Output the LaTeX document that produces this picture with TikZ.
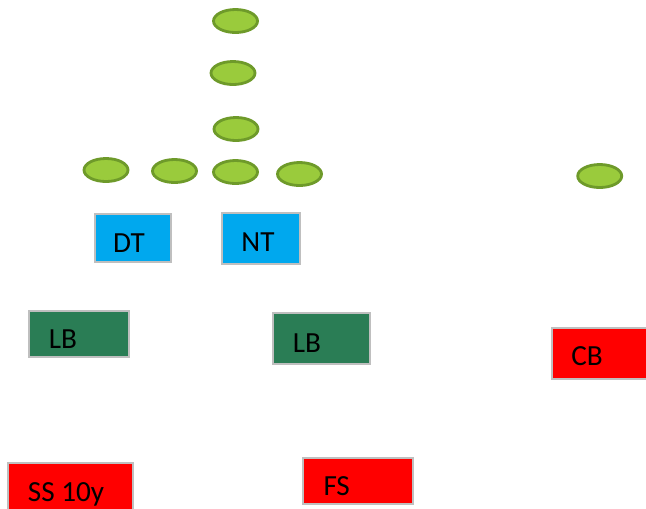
\documentclass[tikz,border=0pt]{standalone}
\usepackage{fontspec}
\setmainfont{Carlito}
\definecolor{offGreen}{HTML}{9ACB3C}
\definecolor{offGreenDk}{HTML}{6E9A2A}
\definecolor{lineBlue}{HTML}{00A8EE}
\definecolor{lbGreen}{HTML}{2A7D55}
\definecolor{dbRed}{HTML}{FF0000}
\definecolor{boxGray}{HTML}{BFBFBF}
\usetikzlibrary{shapes.geometric}

\begin{document}
\begin{tikzpicture}[
  x=0.01cm, y=-0.01cm,
  player/.style={ellipse, draw=offGreenDk, fill=offGreen, line width=0.8pt, minimum width=0.44cm, minimum height=0.23cm, inner sep=0pt},
  defbox/.style={draw=boxGray, line width=0.45pt, inner sep=0pt},
  tag/.style={anchor=base, inner sep=0pt, font=\fontsize{8.3}{10}\selectfont}
]
  \clip (0,0) rectangle (646,508);

  % offense
  \foreach \n/\x/\y in {p1/235.5/21, p2/233/73, p3/236/129, p4/106/170, p5/174.5/171, p6/235.5/172, p7/299.5/174, p8/599.7/176}
    \node[player] (\n) at (\x,\y) {};

  % defense
  \node[defbox, fill=lineBlue, minimum width=0.76cm, minimum height=0.48cm] (dt) at (133,238) {};
  \node[defbox, fill=lineBlue, minimum width=0.78cm, minimum height=0.51cm] (nt) at (261,238.5) {};
  \node[defbox, fill=lbGreen, minimum width=1.00cm, minimum height=0.46cm] (lbl) at (79,334) {};
  \node[defbox, fill=lbGreen, minimum width=0.97cm, minimum height=0.51cm] (lbr) at (321.5,338.5) {};
  \node[defbox, fill=dbRed, minimum width=1.08cm, minimum height=0.51cm] (cb) at (606,353.5) {};
  \node[defbox, fill=dbRed, minimum width=1.25cm, minimum height=0.57cm] (ss) at (70.5,491.5) {};
  \node[defbox, fill=dbRed, minimum width=1.10cm, minimum height=0.46cm] (fs) at (358,481) {};

  \node[tag] (dtt) at (129,252) {DT};
  \node[tag] (ntt) at (258,251) {NT};
  \node[tag] (lblt) at (63,348) {LB};
  \node[tag] (lbrt) at (307,352) {LB};
  \node[tag] (cbt) at (587,365) {CB};
  \node[tag] (sst) at (66,501.7) {SS 10y};
  \node[tag] (fst) at (336.7,495) {FS};
\end{tikzpicture}
\end{document}
